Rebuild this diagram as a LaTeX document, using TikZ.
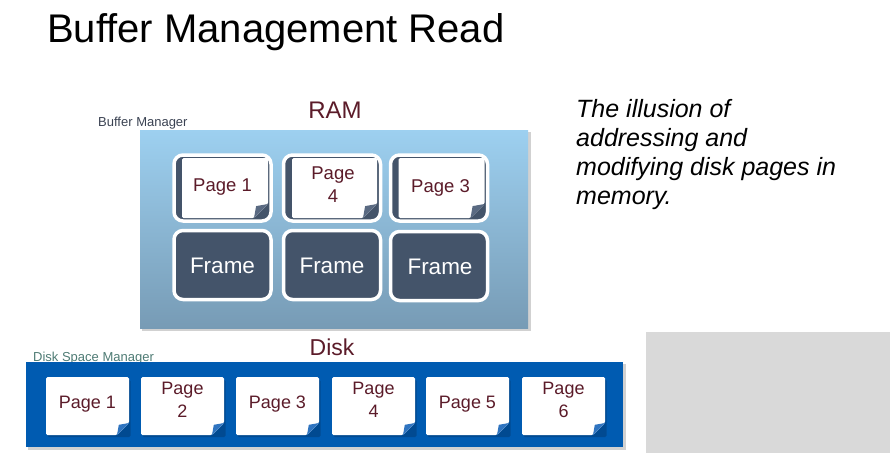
\documentclass[tikz,border=0pt]{standalone}
\usepackage{fontspec}
\setmainfont{Liberation Sans}
\usetikzlibrary{calc}
\definecolor{navy}{HTML}{44546A}
\definecolor{maroon}{HTML}{5B1B29}
\definecolor{ramtop}{HTML}{9DD0F0}
\definecolor{rambot}{HTML}{779BB5}
\definecolor{diskblue}{HTML}{005BB1}
\definecolor{diskshadow}{HTML}{033F7C}
\definecolor{dsmc}{HTML}{4E7B74}
\definecolor{bmc}{HTML}{3A4252}
\definecolor{greyblock}{HTML}{D9D9D9}
\definecolor{ramfold}{HTML}{5A6A82}
\definecolor{diskfold}{HTML}{2F74C0}
\newcommand\foldsheet[6]{% x1 y1 x2 y2 fold foldcolour
  \fill[white, rounded corners=1.5] (#1,#2) -- (#3,#2) -- (#3,{#4-#5}) -- ({#3-#5},#4) -- (#1,#4) -- cycle;
  \fill[#6] (#3,{#4-#5}) -- ({#3-#5},#4) -- ({#3-0.85*#5},{#4-0.85*#5}) -- cycle;
}
\begin{document}
\begin{tikzpicture}[x=1pt,y=-1pt,
  ramcard/.style={draw=white, line width=3.5pt, fill=navy, rounded corners=9pt,
    minimum width=97pt, minimum height=66pt, inner sep=0pt},
  pagetxt/.style={text=maroon, font=\fontsize{18.5}{23}\selectfont, align=center, inner sep=0pt},
  disktxt/.style={text=maroon, font=\fontsize{18}{23}\selectfont, align=center, inner sep=0pt},
  frametxt/.style={text=white, font=\fontsize{22.5}{27}\selectfont, inner sep=0pt},
  lbl/.style={inner sep=0pt}]
\useasboundingbox (0,0) rectangle (890,453);

% title
\node[lbl, anchor=base west, font=\fontsize{40}{48}\selectfont] (title) at (47,42) {Buffer Management Read};

% right text
\node[lbl, anchor=north west, align=left, font=\fontsize{25}{29}\selectfont\itshape] (note) at (576,99.5)
  {The illusion of\\addressing and\\modifying disk pages in\\memory.};

% grey block
\fill[greyblock] (646,332) rectangle (890,453);

% RAM box
\node[lbl, anchor=base, text=maroon, font=\fontsize{24}{28}\selectfont] (ramlbl) at (335,118) {RAM};
\node[lbl, anchor=base west, text=bmc, font=\fontsize{13}{15}\selectfont] (bmlbl) at (98,126) {Buffer Manager};
\fill[black!18] (142,132) rectangle (530.5,331);
\shade[top color=ramtop, bottom color=rambot] (140,130) rectangle (528,328);

% RAM page cards
\node[ramcard] (c1) at (222.5,188) {};
\node[ramcard] (c2) at (332,188) {};
\node[ramcard] (c3) at (439,188) {};
\foldsheet{182}{158}{268}{218}{14}{ramfold}
\foldsheet{292}{158}{377}{218}{14}{ramfold}
\foldsheet{398.5}{158}{484.5}{218}{14}{ramfold}
\node[pagetxt, anchor=base] (p1) at (222.5,191) {Page 1};
\node[pagetxt] (p4) at (333,184.5) {Page\\4};
\node[pagetxt, anchor=base] (p3) at (440.5,192) {Page 3};

% frames
\node[ramcard, minimum height=69pt] (f1) at (222.5,265) {};
\node[ramcard, minimum height=69pt] (f2) at (332,265) {};
\node[ramcard, minimum height=69pt] (f3) at (439,266) {};
\node[frametxt, anchor=base] (ft1) at (222.5,273) {Frame};
\node[frametxt, anchor=base] (ft2) at (332,273) {Frame};
\node[frametxt, anchor=base] (ft3) at (440,274) {Frame};

% Disk
\node[lbl, anchor=base, text=maroon, font=\fontsize{23}{27}\selectfont] (disklbl) at (332,355) {Disk};
\node[lbl, anchor=base west, text=dsmc, font=\fontsize{13}{15}\selectfont] (dsmlbl) at (33,361) {Disk Space Manager};
\fill[black!18] (28,364) rectangle (625.5,449.5);
\fill[diskblue] (26,362) rectangle (623,447);

\foreach \xl in {46,141,236,332,426,522}{
  \fill[diskshadow, opacity=0.6, rounded corners=1.5] ({\xl+1.5},379.5) rectangle ({\xl+84.5},437);
  \foldsheet{\xl}{377}{\xl+83}{435}{12}{diskfold}
}
\node[disktxt, anchor=base] (d1) at (87.5,408) {Page 1};
\node[disktxt] (d2) at (182.5,400) {Page\\2};
\node[disktxt, anchor=base] (d3) at (277.5,408) {Page 3};
\node[disktxt] (d4) at (373.5,400) {Page\\4};
\node[disktxt, anchor=base] (d5) at (467.5,408) {Page 5};
\node[disktxt] (d6) at (563.5,400) {Page\\6};
\end{tikzpicture}
\end{document}
